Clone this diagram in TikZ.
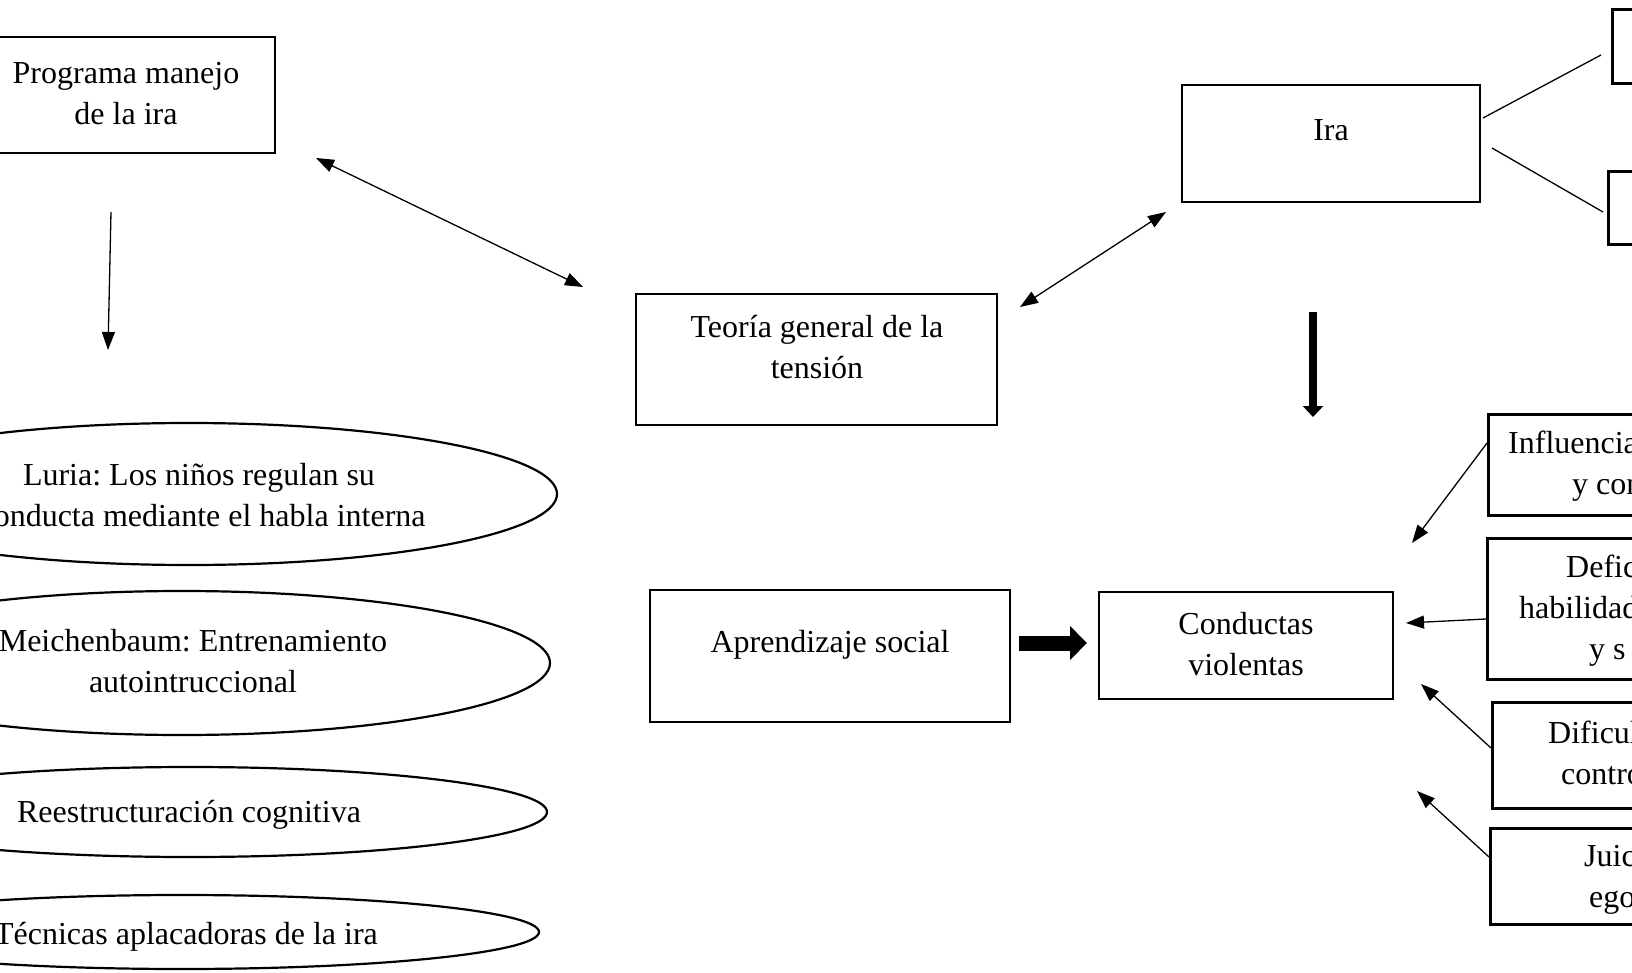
\documentclass[tikz,border=0pt]{standalone}
\usepackage{fontspec}
\setmainfont{Liberation Serif}
\usetikzlibrary{arrows.meta,shapes.geometric}
\frenchspacing
\begin{document}
\frenchspacing
\begin{tikzpicture}[x=1pt,y=-1pt,
  box/.style={draw, rectangle, line width=2.7pt, inner sep=0pt},
  thinbox/.style={draw, rectangle, line width=1.4pt, inner sep=0pt},
  oval/.style={draw, ellipse, line width=2.2pt, inner sep=0pt},
  txt/.style={font=\fontsize{32}{41}\selectfont, align=center, inner sep=0pt},
  frag/.style={font=\fontsize{32}{41}\selectfont, anchor=west, inner sep=0pt},
  conn/.style={line width=1.3pt, -{Triangle[length=18pt,width=13pt]}},
  dconn/.style={line width=1.3pt, {Triangle[length=18pt,width=13pt]}-{Triangle[length=18pt,width=13pt]}},
  plain/.style={line width=1.3pt},
  fatdown/.style={line width=8.5pt, -{Triangle[length=11pt,width=20pt]}},
  fatright/.style={line width=15pt, -{Triangle[length=17pt,width=33pt]}}]
\useasboundingbox (0,0) rectangle (1632,973);
\clip (0,0) rectangle (1632,973);

% boxes
\node[box, minimum width=298pt, minimum height=116pt] (prog) at (126,95) {};
\node[txt] (progT) at (126,96) {\strut Programa manejo\\\strut de la ira};

\node[box, minimum width=361pt, minimum height=131pt] (teoria) at (816.5,359.5) {};
\node[txt] (teoriaT) at (817,350) {\strut Teoría general de la\\\strut tensión};

\node[box, minimum width=298pt, minimum height=117pt] (ira) at (1331,143.5) {};
\node[txt] (iraT) at (1331,132) {\strut Ira};

\node[box, minimum width=360pt, minimum height=132pt] (apr) at (830,656) {};
\node[txt] (aprT) at (830,644.5) {\strut Aprendizaje social};

\node[thinbox, minimum width=294pt, minimum height=107pt] (cond) at (1246,645.5) {};
\node[txt] (condT) at (1246,647) {\strut Conductas\\\strut violentas};

% right-edge boxes (cut by the page edge)
\node[box, minimum width=120pt, minimum height=74pt, anchor=north west] (ra) at (1611,8) {};
\node[box, minimum width=120pt, minimum height=73pt, anchor=north west] (rb) at (1607,170) {};
\node[box, minimum width=200pt, minimum height=101pt, anchor=north west] (infl) at (1487,413) {};
\node[box, minimum width=200pt, minimum height=141pt, anchor=north west] (defic) at (1486,537) {};
\node[box, minimum width=200pt, minimum height=106pt, anchor=north west] (dific) at (1491,701) {};
\node[box, minimum width=200pt, minimum height=96pt, anchor=north west] (juic) at (1489,827) {};

\node[frag] (f1) at (1508,445) {\strut Influencia};
\node[frag] (f2) at (1572,486) {\strut y con};
\node[frag] (f3) at (1566,569) {\strut Defic};
\node[frag] (f4) at (1519,610) {\strut habilidad};
\node[frag] (f5) at (1589,651) {\strut y s};
\node[frag] (f6) at (1548,735) {\strut Dificul};
\node[frag] (f7) at (1561,776) {\strut contro};
\node[frag] (f8) at (1584,858) {\strut Juic};
\node[frag] (f9) at (1589,899) {\strut ego};

% ellipses
\node[oval, minimum width=736pt, minimum height=142pt] (luria) at (189,494) {};
\node[txt] (luriaT) at (199,498) {\strut Luria: Los niños regulan su\\\strut Conducta mediante el habla interna};

\node[oval, minimum width=736pt, minimum height=144pt] (meich) at (182,663) {};
\node[txt] (meichT) at (193,664) {\strut Meichenbaum: Entrenamiento\\\strut autointruccional};

\node[oval, minimum width=714pt, minimum height=90pt] (reest) at (190,812) {};
\node[txt] (reestT) at (189,814) {\strut Reestructuración cognitiva};

\node[oval, minimum width=714pt, minimum height=74pt] (tec) at (182,932) {};
\node[txt] (tecT) at (186,936) {\strut Técnicas aplacadoras de la ira};

% connector end points
\coordinate (p1) at (111,212);
\coordinate (p2) at (108,350);
\coordinate (d1) at (316,158);
\coordinate (d2) at (583,287);
\coordinate (e1) at (1020,307);
\coordinate (e2) at (1166,212);
\coordinate (l1s) at (1483,118);
\coordinate (l1e) at (1601,55);
\coordinate (l2s) at (1492,148);
\coordinate (l2e) at (1603,212);
\coordinate (tds) at (1313,312);
\coordinate (tde) at (1313,417);
\coordinate (trs) at (1019,643);
\coordinate (tre) at (1087,643);
\coordinate (a1s) at (1487,443);
\coordinate (a1e) at (1412,543);
\coordinate (a2s) at (1486,619);
\coordinate (a2e) at (1406,623);
\coordinate (a3s) at (1491,748);
\coordinate (a3e) at (1421,684);
\coordinate (a4s) at (1489,857);
\coordinate (a4e) at (1417,791);

% connectors
\draw[conn] (p1) -- (p2);
\draw[dconn] (d1) -- (d2);
\draw[dconn] (e1) -- (e2);
\draw[plain] (l1s) -- (l1e);
\draw[plain] (l2s) -- (l2e);
\draw[fatdown] (tds) -- (tde);
\draw[fatright] (trs) -- (tre);
\draw[conn] (a1s) -- (a1e);
\draw[conn] (a2s) -- (a2e);
\draw[conn] (a3s) -- (a3e);
\draw[conn] (a4s) -- (a4e);
\end{tikzpicture}
\end{document}
